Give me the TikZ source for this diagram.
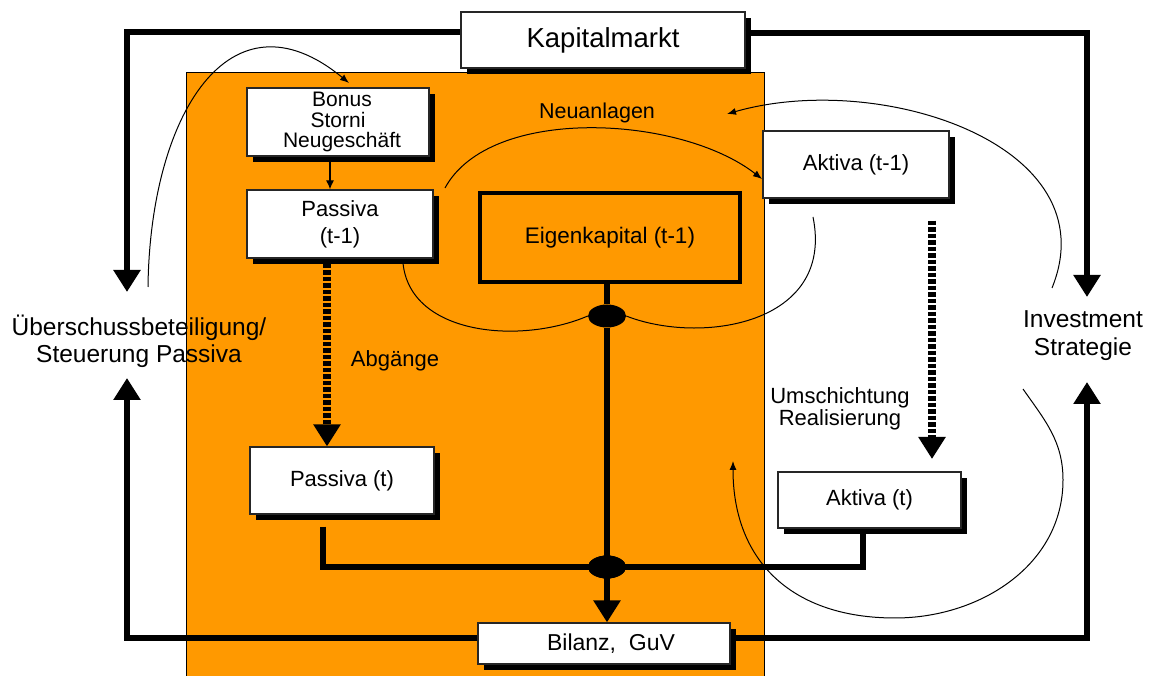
\documentclass[tikz,border=0pt]{standalone}
\usepackage{fontspec}
\setmainfont{Liberation Sans}
\usetikzlibrary{arrows.meta,shadows,shapes.geometric}
\definecolor{orng}{RGB}{255,153,0}
\newcommand\fsz[2]{\fontsize{#1}{#2}\selectfont}
\begin{document}
\begin{tikzpicture}[x=1pt,y=1pt,
  sbox/.style={draw=black!85, line width=1.2pt, fill=white, inner sep=0pt, align=center,
    font=\fsz{22}{27}, drop shadow={shadow xshift=6pt, shadow yshift=-6pt, opacity=1, fill=black}},
  lab/.style={inner sep=0pt, align=center, font=\fsz{22}{22}},
  conn/.style={line width=6.5pt},
  bigtip/.style={-{Triangle[width=26pt,length=22pt]}},
  dotline/.style={line width=8pt, dash pattern=on 4.5pt off 2pt},
  tarc/.style={line width=1pt, -{Latex[length=9pt,width=7pt]}},
  knot/.style={ellipse, fill=black, minimum width=38pt, minimum height=23pt, inner sep=0pt}]
\useasboundingbox (0,0) rectangle (1149,675);
\fill[white] (0,0) rectangle (1149,675);
% orange area
\draw[fill=orng, draw=black, line width=0.8pt] (186,-5) rectangle (764,603);

% nodes
\node[sbox, minimum width=284pt, minimum height=56pt, font=\fsz{27.5}{30}] (km) at (603,635) {Kapitalmarkt};
\node[sbox, minimum width=252pt, minimum height=41pt, font=\fsz{23}{26}] (bil) at (604,31.5) {\hspace*{14pt}Bilanz,\ \ GuV};
\node[lab, font=\fsz{24.5}{27}] (ueber) at (139,333.5) {Überschussbeteiligung/\\Steuerung Passiva};
\node[lab, font=\fsz{24.5}{28}] (inv) at (1083,339) {Investment\\Strategie};

\coordinate (ltop) at (127,383);
\coordinate (lbot) at (127,297);
\coordinate (rtop) at (1087,378);
\coordinate (rbot) at (1087,293);

% outer thick connectors
\draw[conn, bigtip] ([yshift=8pt]km.west) -| (ltop);
\draw[conn, bigtip] ([yshift=7pt]km.east) -| (rtop);
\draw[conn, bigtip] ([yshift=5.5pt]bil.west) -| (lbot);
\draw[conn, bigtip] ([yshift=5.5pt]bil.east) -| (rbot);
% redraw Bilanz box on top of lines
\node[sbox, minimum width=252pt, minimum height=41pt, font=\fsz{23}{26}] at (604,31.5) {\hspace*{14pt}Bilanz,\ \ GuV};

% inner boxes
\node[sbox, minimum width=182pt, minimum height=68pt, font=\fsz{21}{20.5}] (bon) at (338,553) {\hspace*{8pt}Bonus\\Storni\\\hspace*{8pt}Neugeschäft};
\node[sbox, minimum width=186pt, minimum height=68pt] (p1) at (340,451) {Passiva\\(t-1)};
\node[sbox, minimum width=184pt, minimum height=67pt] (p2) at (342,194.5) {Passiva (t)};
\node[sbox, minimum width=186pt, minimum height=67pt] (a1) at (856,510.5) {Aktiva (t-1)};
\node[sbox, minimum width=183pt, minimum height=56pt] (a2) at (869.5,175) {Aktiva (t)};
\node[draw, line width=3.5pt, inner sep=0pt, minimum width=260pt, minimum height=89pt, font=\fsz{22.5}{26}] (ek) at (610,437.5) {Eigenkapital (t-1)};

% knots
\node[knot] (e1) at (607,359) {};
\node[knot] (e2) at (607,108) {};

% labels
\node[lab, font=\fsz{21.5}{24}] (neu) at (597,562) {Neuanlagen};
\node[lab] (abg) at (395,314) {Abgänge};
\node[lab] (ums) at (840,266) {Umschichtung\\Realisierung};

% small arrow Bonus -> Passiva (t-1)
\draw[line width=1.2pt, -{Latex[length=9pt,width=8pt]}] ([xshift=-8pt,yshift=-4pt]bon.south) -- ([xshift=-10pt]p1.north);

% dotted arrows
\draw[dotline, bigtip] ([xshift=-13pt,yshift=-5pt]p1.south) -- ([xshift=-15pt]p2.north);
\draw[dotline, bigtip] ([xshift=76pt,yshift=-22pt]a1.south) -- (932,216);

% central thick connectors
\draw[conn] (e1 |- ek.south) -- (e1);
\draw[conn, bigtip] (e1) -- (e2 |- bil.north);
\draw[conn, line join=miter] ([xshift=-19pt,yshift=-12pt]p2.south) |- (e2.center) -| ([xshift=-6.5pt,yshift=-5pt]a2.south);
\node[knot] at (e2) {};

% thin curved arrows
\draw[tarc] (148,388) .. controls (150,560) and (230,690) .. (349,592);
\draw[tarc] (445,487) .. controls (490,570) and (680,560) .. (762,496);
\draw[tarc] (1052,387) .. controls (1110,530) and (880,605) .. (727,561);
\draw[line width=1pt] (403,412) .. controls (410,340) and (520,330) .. (e1.west);
\draw[line width=1pt] (e1.east) .. controls (700,330) and (835,350) .. (813,458);
\draw[tarc] (1023,286) to[out=-55,in=90] (1063,195) to[out=-90,in=0] (895,57) to[out=180,in=-90,looseness=1.15] (733,214);
\end{tikzpicture}
\end{document}
